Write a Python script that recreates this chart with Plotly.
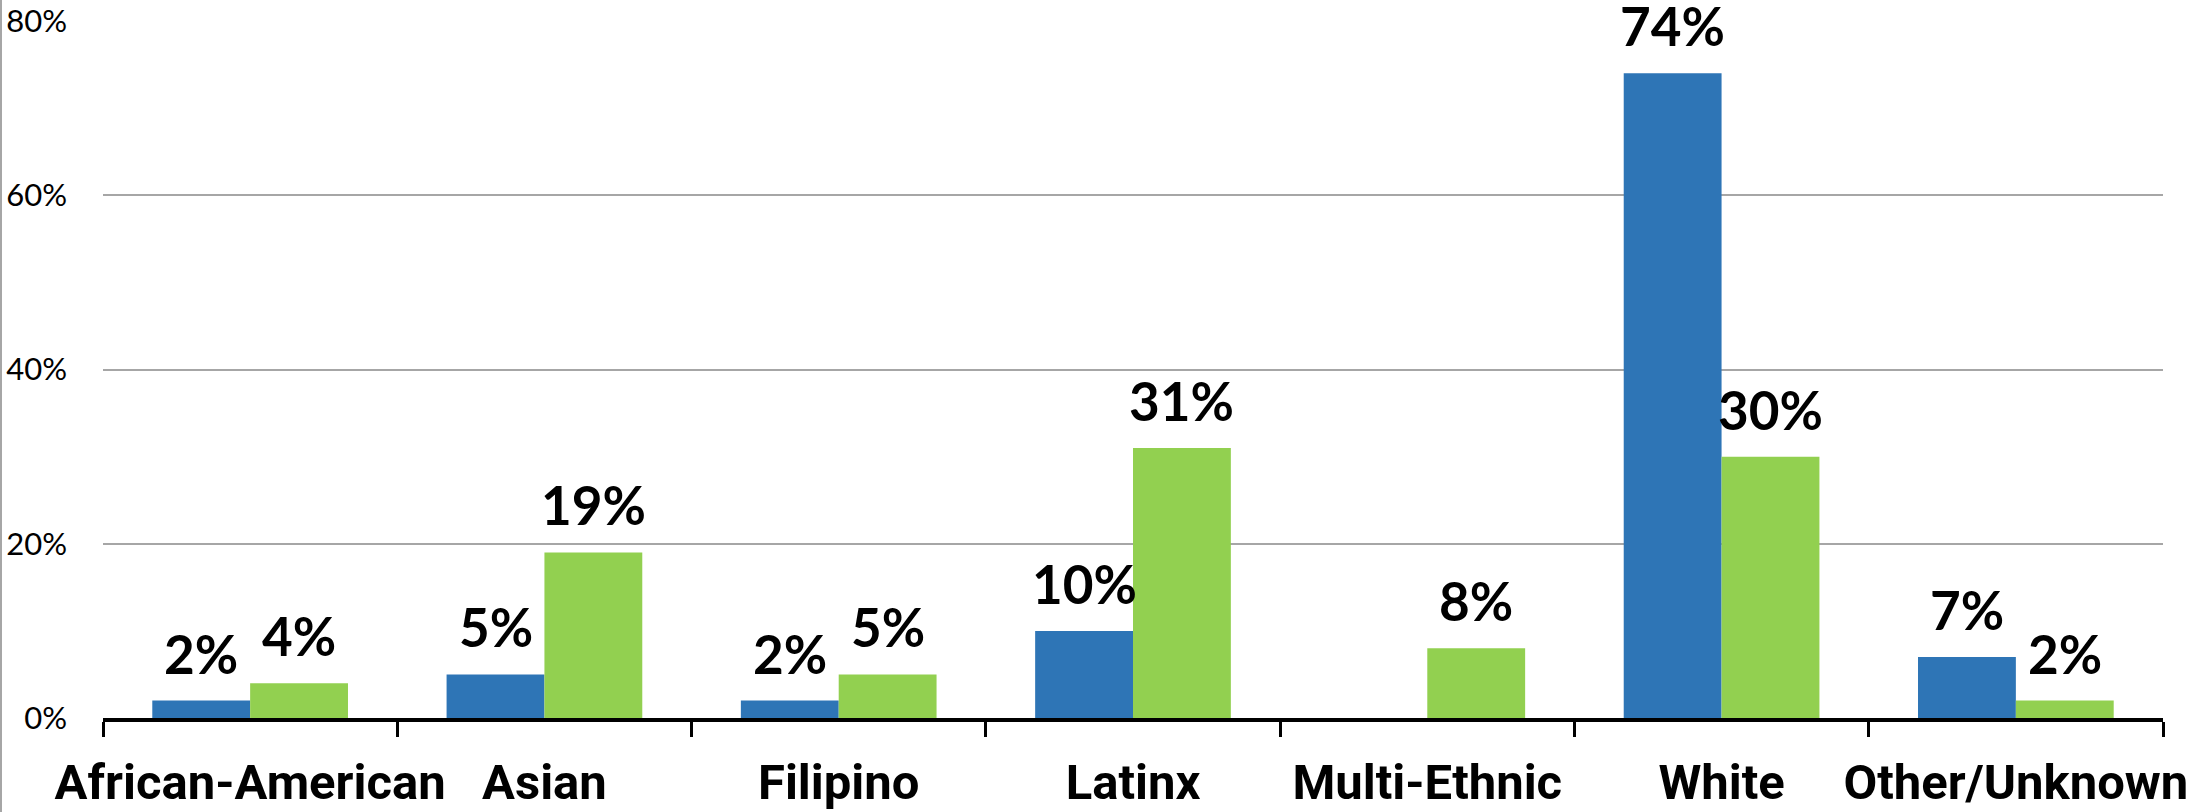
import plotly.graph_objects as go

categories = ["African-American", "Asian", "Filipino", "Latinx", "Multi-Ethnic", "White", "Other/Unknown"]
series_blue = [2, 5, 2, 10, None, 74, 7]
series_green = [4, 19, 5, 31, 8, 30, 2]
y_ticks = [0, 20, 40, 60, 80]
y_tick_labels = ["0%", "20%", "40%", "60%", "80%"]

BLUE = "#2E75B6"
GREEN = "#92D050"
BARGAP = 0.335
half = (1 - BARGAP) / 4.0  # center offset of each bar within a group

W, H = 2197, 812
ML, MR, MT, MB = 103, 34, 21, 94
plot_w = W - ML - MR
plot_h = H - MT - MB

fig = go.Figure()
fig.add_trace(go.Bar(x=categories, y=series_blue, marker=dict(color=BLUE, line=dict(width=0)), name="A"))
fig.add_trace(go.Bar(x=categories, y=series_green, marker=dict(color=GREEN, line=dict(width=0)), name="B"))

annotations = []
for i, (b, g) in enumerate(zip(series_blue, series_green)):
    for val, off in ((b, -half), (g, half)):
        if val is None:
            continue
        annotations.append(dict(
            x=i + off, y=val, xref="x", yref="y", text=f"{val}%",
            showarrow=False, yanchor="bottom", xanchor="center", yshift=14,
            font=dict(family="Lato", size=53, color="black", weight="bold"),
        ))

fig.update_layout(
    width=W, height=H,
    margin=dict(l=ML, r=MR, t=MT, b=MB),
    paper_bgcolor="white", plot_bgcolor="white",
    barmode="group", bargap=BARGAP, bargroupgap=0,
    showlegend=False,
    annotations=annotations,
    xaxis=dict(
        type="category", tickson="boundaries", ticks="outside", ticklen=15, tickwidth=3,
        tickcolor="black", showline=True, linecolor="black", linewidth=4,
        showgrid=False, ticklabelstandoff=18, tickangle=0, automargin=False,
        tickfont=dict(family="Roboto", size=49, color="black", weight="bold"),
    ),
    yaxis=dict(
        range=[0, 80], tickvals=y_ticks, ticktext=y_tick_labels,
        showgrid=True, gridcolor="#A6A6A6", gridwidth=2, zeroline=False,
        showline=False, ticks="", ticklabelstandoff=35, automargin=False,
        tickfont=dict(family="Lato", size=31, color="black"),
    ),
    shapes=[dict(type="line", xref="paper", yref="paper",
                 x0=-(ML - 1) / plot_w, x1=-(ML - 1) / plot_w,
                 y0=-MB / plot_h, y1=1 + MT / plot_h,
                 line=dict(color="#A6A6A6", width=2))],
)

fig.write_html(
    "out.html",
    config={"displayModeBar": False},
    post_script="document.body.style.margin='0';document.body.style.overflow='hidden';",
)
